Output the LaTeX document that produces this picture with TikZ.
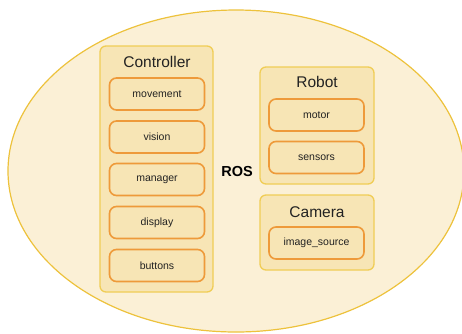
\documentclass[tikz,border=0pt]{standalone}
\usepackage{fontspec}
\setmainfont{Liberation Sans}
\definecolor{ellfill}{HTML}{FBF0D6}
\definecolor{elldraw}{HTML}{EDC23C}
\definecolor{boxfill}{HTML}{F7E5B5}
\definecolor{boxdraw}{HTML}{F0CD55}
\definecolor{itemdraw}{HTML}{EE9A3A}
\definecolor{txt}{HTML}{222222}
\begin{document}
\begin{tikzpicture}[x=1pt,y=-1pt,
  group/.style={draw=boxdraw,fill=boxfill,line width=1.3pt,rounded corners=6pt,inner sep=0pt},
  item/.style={draw=itemdraw,fill=boxfill,line width=1.6pt,rounded corners=7pt,minimum width=95pt,minimum height=32pt,inner sep=0pt,font=\fontsize{10.5}{12}\selectfont,text=txt},
  title/.style={font=\fontsize{15.5}{18}\selectfont,text=txt,inner sep=0pt}]
\useasboundingbox (0,0) rectangle (462,333);
\clip (0,0) rectangle (462,333);
\draw[draw=elldraw,fill=ellfill,line width=1.2pt] (236,171) ellipse [x radius=228,y radius=161];
% Controller
\node[group,minimum width=113pt,minimum height=246pt] (ctrl) at (156.5,169) {};
\node[title] (ctrlt) at (157,62) {Controller};
\node[item] (mov) at (157,94) {movement};
\node[item] (vis) at (157,137) {vision};
\node[item] (man) at (157,179.5) {manager};
\node[item] (dis) at (157,222.5) {display};
\node[item] (but) at (157,265.5) {buttons};
% ROS
\node[font=\fontsize{14.5}{17}\selectfont\bfseries,text=black,inner sep=0pt] (ros) at (237,172) {ROS};
% Robot
\node[group,minimum width=114pt,minimum height=117pt] (robot) at (317,125.5) {};
\node[title] (robott) at (317,82) {Robot};
\node[item] (mot) at (316.5,115) {motor};
\node[item] (sen) at (316.5,157.5) {sensors};
% Camera
\node[group,minimum width=114pt,minimum height=75pt] (cam) at (317,232.5) {};
\node[title] (camt) at (317,212) {Camera};
\node[item] (img) at (316.5,243) {image\_source};
\end{tikzpicture}
\end{document}
